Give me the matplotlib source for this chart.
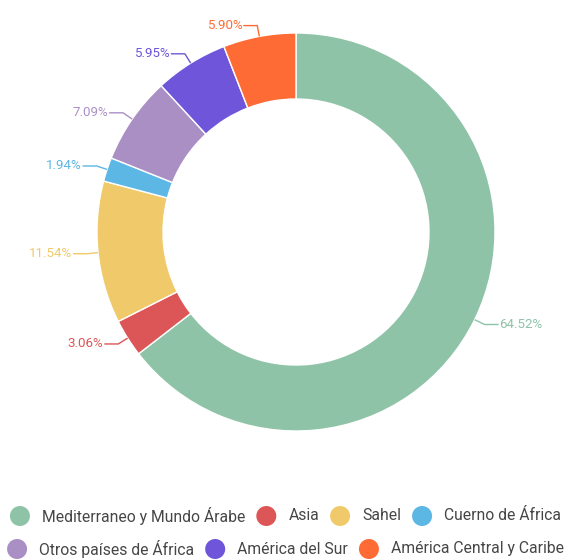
import matplotlib
matplotlib.use("Agg")
import matplotlib.pyplot as plt
from matplotlib.patches import Circle
import numpy as np

plt.rcParams['font.family'] = ['Roboto', 'DejaVu Sans']

# datos
regiones = ["Mediterraneo y Mundo Árabe", "Asia", "Sahel", "Cuerno de África",
            "Otros países de África", "América del Sur", "América Central y Caribe"]
porcentajes = [64.52, 3.06, 11.54, 1.94, 7.09, 5.95, 5.90]
colores = ["#8fc3a7", "#dc5557", "#f0ca6a", "#5db7e4", "#aa8fc5", "#6e55d9", "#ff6b35"]
filas_leyenda = [[0, 1, 2, 3], [4, 5, 6]]

W, H = 571, 560
fig = plt.figure(figsize=(W / 100, H / 100), dpi=100)
ax = fig.add_axes([0, 0, 1, 1])

cx, cy = 296, H - 232
R, ancho = 199, 66

ax.pie(porcentajes, colors=colores, startangle=90, counterclock=False,
       radius=R, center=(cx, cy), frame=True,
       wedgeprops=dict(width=ancho, edgecolor="white", linewidth=1))
ax.set_xlim(0, W)
ax.set_ylim(0, H)
ax.axis("off")

# etiquetas con linea guia
acum = np.cumsum([0] + porcentajes)
for i, p in enumerate(porcentajes):
    theta = np.deg2rad((acum[i] + p / 2) / 100 * 360)
    dx, dy = np.sin(theta), np.cos(theta)
    x0, y0 = cx + R * dx, cy + R * dy
    x1, y1 = x0 + 11 * dx, y0 + 11 * dy
    lado = 1 if dx >= 0 else -1
    x2 = x1 + 14 * lado
    ax.plot([x0, x1, x2], [y0, y1, y1], color=colores[i], lw=1, solid_capstyle="butt")
    ax.text(x2 + 1 * lado, y1, f"{p:.2f}%", color=colores[i], fontsize=9.6,
            ha="left" if lado > 0 else "right", va="center")

# leyenda
fig.canvas.draw()
rend = fig.canvas.get_renderer()
ys = [H - 516, H - 549]
d_circ, gap_txt, gap_item = 20, 12, 11
for fila, yrow in zip(filas_leyenda, ys):
    textos = []
    for k in fila:
        t = ax.text(0, yrow, regiones[k], fontsize=11.3, color="#464646",
                    ha="left", va="center")
        textos.append(t)
    anchos = [t.get_window_extent(rend).width for t in textos]
    total = sum(d_circ + gap_txt + w for w in anchos) + gap_item * (len(fila) - 1)
    x = (W - total) / 2
    for k, t, w in zip(fila, textos, anchos):
        ax.add_patch(Circle((x + d_circ / 2, yrow), d_circ / 2, color=colores[k], lw=0))
        t.set_x(x + d_circ + gap_txt)
        x += d_circ + gap_txt + w + gap_item

fig.savefig("out.png", dpi=100)
